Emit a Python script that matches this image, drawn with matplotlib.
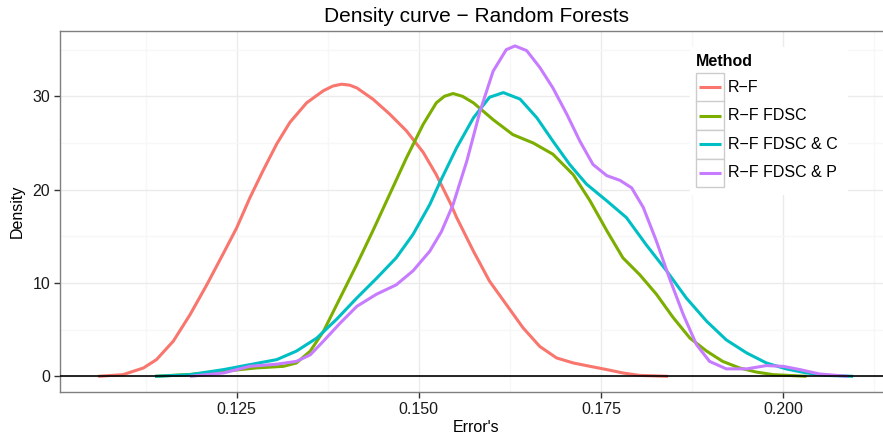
import matplotlib
matplotlib.use("Agg")
import matplotlib.pyplot as plt
from matplotlib.patches import Rectangle
from matplotlib.lines import Line2D

plt.rcParams['font.family'] = ['Liberation Sans', 'DejaVu Sans']

# density curves (x = error, y = density)
rf_x = [0.1060, 0.1094, 0.1122, 0.1140, 0.1163, 0.1186, 0.1209, 0.1232, 0.1250, 0.1268,
        0.1286, 0.1305, 0.1323, 0.1346, 0.1369, 0.1382, 0.1394, 0.1405, 0.1415, 0.1437,
        0.1460, 0.1483, 0.1506, 0.1524, 0.1543, 0.1552, 0.1575, 0.1597, 0.1620, 0.1643,
        0.1666, 0.1689, 0.1712, 0.1735, 0.1758, 0.1780, 0.1803, 0.1842]
rf_y = [0.0, 0.18, 0.89, 1.79, 3.76, 6.6, 9.8, 13.2, 15.9, 19.1,
        22.0, 24.9, 27.2, 29.3, 30.6, 31.1, 31.3, 31.2, 30.9, 29.7,
        28.1, 26.3, 24.0, 21.6, 18.6, 17.0, 13.4, 10.2, 7.7, 5.2,
        3.2, 1.97, 1.43, 1.07, 0.72, 0.36, 0.1, 0.0]

fdsc_x = [0.1138, 0.1186, 0.1232, 0.1277, 0.1314, 0.1332, 0.1351, 0.1369, 0.1392, 0.1415,
          0.1437, 0.1460, 0.1483, 0.1506, 0.1524, 0.1535, 0.1547, 0.1560, 0.1575, 0.1602,
          0.1629, 0.1657, 0.1684, 0.1712, 0.1735, 0.1758, 0.1780, 0.1803, 0.1826, 0.1849,
          0.1872, 0.1895, 0.1917, 0.1940, 0.1963, 0.1986, 0.2032]
fdsc_y = [0.0, 0.2, 0.54, 0.9, 1.07, 1.43, 2.7, 4.8, 8.4, 12.0,
          15.6, 19.5, 23.4, 27.0, 29.3, 30.0, 30.3, 30.0, 29.3, 27.5,
          25.9, 25.0, 23.8, 21.6, 18.8, 15.6, 12.7, 10.9, 8.8, 6.3,
          4.1, 2.7, 1.6, 0.9, 0.46, 0.18, 0.0]

fdsc_c_x = [0.1138, 0.1186, 0.1232, 0.1268, 0.1305, 0.1332, 0.1360, 0.1387, 0.1415, 0.1442,
            0.1469, 0.1492, 0.1515, 0.1529, 0.1552, 0.1575, 0.1597, 0.1616, 0.1639, 0.1662,
            0.1684, 0.1707, 0.1730, 0.1758, 0.1785, 0.1812, 0.1840, 0.1867, 0.1895, 0.1922,
            0.1950, 0.1977, 0.2004, 0.2032, 0.2059, 0.2096]
fdsc_c_y = [0.0, 0.18, 0.72, 1.25, 1.79, 2.7, 4.1, 6.1, 8.4, 10.5,
            12.7, 15.2, 18.4, 20.8, 24.5, 27.7, 29.9, 30.4, 29.7, 27.7,
            25.2, 22.7, 20.6, 18.8, 17.0, 14.1, 11.3, 8.4, 5.9, 3.9,
            2.5, 1.43, 0.8, 0.36, 0.1, 0.0]

fdsc_p_x = [0.1186, 0.1232, 0.1268, 0.1305, 0.1332, 0.1351, 0.1369, 0.1392, 0.1415, 0.1442,
            0.1469, 0.1492, 0.1515, 0.1531, 0.1547, 0.1566, 0.1584, 0.1602, 0.1620, 0.1632,
            0.1648, 0.1666, 0.1684, 0.1703, 0.1721, 0.1739, 0.1758, 0.1776, 0.1792, 0.1808,
            0.1826, 0.1844, 0.1863, 0.1881, 0.1899, 0.1922, 0.1950, 0.1977, 0.2000, 0.2023,
            0.2050, 0.2089]
fdsc_p_y = [0.0, 0.36, 1.07, 1.3, 1.6, 2.3, 3.76, 5.7, 7.5, 8.8,
            9.8, 11.3, 13.4, 15.5, 18.4, 23.1, 28.4, 32.7, 35.0, 35.4,
            34.9, 33.1, 30.9, 28.1, 25.2, 22.7, 21.5, 21.0, 20.2, 18.1,
            14.5, 10.5, 6.6, 3.4, 1.6, 0.8, 0.8, 1.15, 1.07, 0.72,
            0.25, 0.0]

labels = ["R\u2212F", "R\u2212F FDSC", "R\u2212F FDSC & C", "R\u2212F FDSC & P"]
colors = ["#F8766D", "#7CAE00", "#00BFC4", "#C77CFF"]
series = [(rf_x, rf_y), (fdsc_x, fdsc_y), (fdsc_c_x, fdsc_c_y), (fdsc_p_x, fdsc_p_y)]

W, H = 883, 441
fig = plt.figure(figsize=(W / 100, H / 100), dpi=100)

def fx(px):
    return px / W

def fy(py):
    return 1 - py / H

ax = fig.add_axes([fx(60), fy(392), 1 - fx(60), fy(31) - fy(392)])
ax.set_xlim(0.10076, 0.2137)
ax.set_ylim(-1.68, 37.0)

ax.set_xticks([0.125, 0.150, 0.175, 0.200])
ax.set_xticklabels(["0.125", "0.150", "0.175", "0.200"])
ax.set_xticks([0.1125, 0.1375, 0.1625, 0.1875, 0.2125], minor=True)
ax.set_yticks([0, 10, 20, 30])
ax.set_yticks([5, 15, 25, 35], minor=True)

ax.grid(which='major', color='#EBEBEB', linewidth=1.0)
ax.grid(which='minor', color='#F7F7F7', linewidth=1.0)
ax.set_axisbelow(True)
ax.tick_params(which='major', length=4, width=1, color='#333333', labelsize=11.5,
               labelcolor='#1a1a1a', pad=3)
ax.tick_params(which='minor', length=0)
for s in ['left', 'bottom', 'top']:
    ax.spines[s].set_color('#7f7f7f')
    ax.spines[s].set_linewidth(1.0)
ax.spines['right'].set_visible(False)

for (xs, ys), c in zip(series, colors):
    ax.plot(xs, ys, color=c, linewidth=2.2, solid_capstyle='butt', solid_joinstyle='round',
            zorder=3)
ax.axhline(0, color='black', linewidth=1.2, zorder=4)

# titles (centred on the full panel, which runs past the picture's right edge)
fig.text(fx(477), fy(17), "Density curve \u2212 Random Forests", ha='center', va='center',
         fontsize=15)
fig.text(fx(476), fy(427), "Error's", ha='center', va='center', fontsize=11.5)
fig.text(fx(17), fy(211), "Density", ha='center', va='center', rotation=90, fontsize=11.5)

# legend, ggplot style
fig.patches.append(Rectangle((fx(690), fy(195)), fx(848) - fx(690), fy(47) - fy(195),
                             transform=fig.transFigure, facecolor='white', edgecolor='none',
                             zorder=5))
fig.text(fx(696), fy(61), "Method", ha='left', va='center', fontsize=11.5,
         fontweight='bold', zorder=6)
key_top = 73
key_h = 28.5
for i, (lab, c) in enumerate(zip(labels, colors)):
    t = key_top + i * key_h
    fig.patches.append(Rectangle((fx(696), fy(t + key_h)), fx(724) - fx(696), fy(t) - fy(t + key_h),
                                 transform=fig.transFigure, facecolor='white',
                                 edgecolor='#CCCCCC', linewidth=1.0, zorder=6))
    cy = t + key_h / 2
    fig.lines.append(Line2D([fx(699), fx(721)], [fy(cy), fy(cy)], transform=fig.transFigure,
                            color=c, linewidth=2.2, solid_capstyle='butt', zorder=7))
    fig.text(fx(728), fy(cy), lab, ha='left', va='center', fontsize=11.5, zorder=7)

fig.savefig("out.png", dpi=100)
